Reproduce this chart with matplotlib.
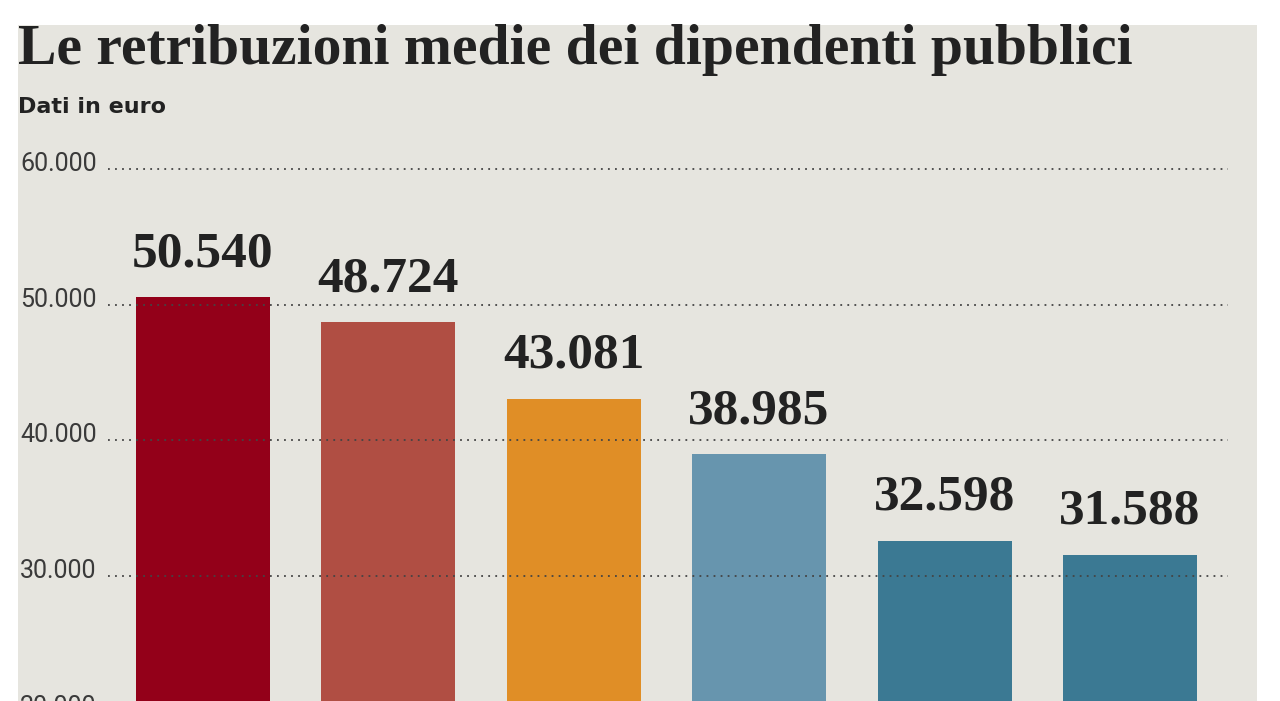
import matplotlib.pyplot as plt
from matplotlib.patches import Rectangle
import matplotlib.transforms as mtransforms

# dati
valori = [50540, 48724, 43081, 38985, 32598, 31588]
etichette = ["50.540", "48.724", "43.081", "38.985", "32.598", "31.588"]
colori = ["#930019", "#b04e43", "#e08e26", "#6795ae", "#3b7993", "#3b7993"]
griglia = [60000, 50000, 40000, 30000, 20000]
griglia_lab = ["60.000", "50.000", "40.000", "30.000", "20.000"]

W, H = 1280, 701
fig = plt.figure(figsize=(W / 100, H / 100), dpi=100, facecolor="white")

# sfondo beige
fig.patches.append(Rectangle((18 / W, 0), 1239 / W, 676 / H, transform=fig.transFigure,
                             facecolor="#e6e5df", edgecolor="none", zorder=-5))

ax = fig.add_axes([0, 0, 1, 1])
ax.set_facecolor("none")
ax.axis("off")
ax.set_zorder(2)

# scala: 60.000 a y=169 px, 10.000 = 135.7 px
px = 10000 / 135.7
ymax = 60000 + 169 * px
ymin = 60000 - (H - 169) * px
ax.set_ylim(ymin, ymax)
passo = 185.5
ax.set_xlim(-202.5 / passo, (W - 202.5) / passo)

x = list(range(len(valori)))
ax.bar(x, valori, width=134 / passo, color=colori, zorder=2)

trans = mtransforms.blended_transform_factory(ax.transAxes, ax.transData)
for v, lab in zip(griglia, griglia_lab):
    ax.plot([108 / W, 1228 / W], [v, v], transform=trans, color="#444444",
            linestyle=(0, (1, 2.9)), linewidth=1.3, zorder=3)
    ax.text(20 / W, v - 2 * px, lab, transform=trans, ha="left", va="baseline",
            fontsize=18, family=["Roboto", "DejaVu Sans"], fontweight="normal",
            color="#3a3a3a", zorder=4)

for xi, v, lab in zip(x, valori, etichette):
    ax.text(xi, v + 31 * px, lab, ha="center", va="baseline", fontsize=37,
            family="Liberation Serif", fontweight="bold", color="#222222", zorder=4)

fig.text(18 / W, 1 - 64 / H, "Le retribuzioni medie dei dipendenti pubblici",
         ha="left", va="baseline", fontsize=41.5, family="Liberation Serif",
         fontweight="bold", color="#222222")
fig.text(18 / W, 1 - 113 / H, "Dati in euro", ha="left", va="baseline",
         fontsize=16, family="DejaVu Sans", fontweight="bold", color="#222222")

fig.savefig("out.png", dpi=100, facecolor="white")
plt.close()
